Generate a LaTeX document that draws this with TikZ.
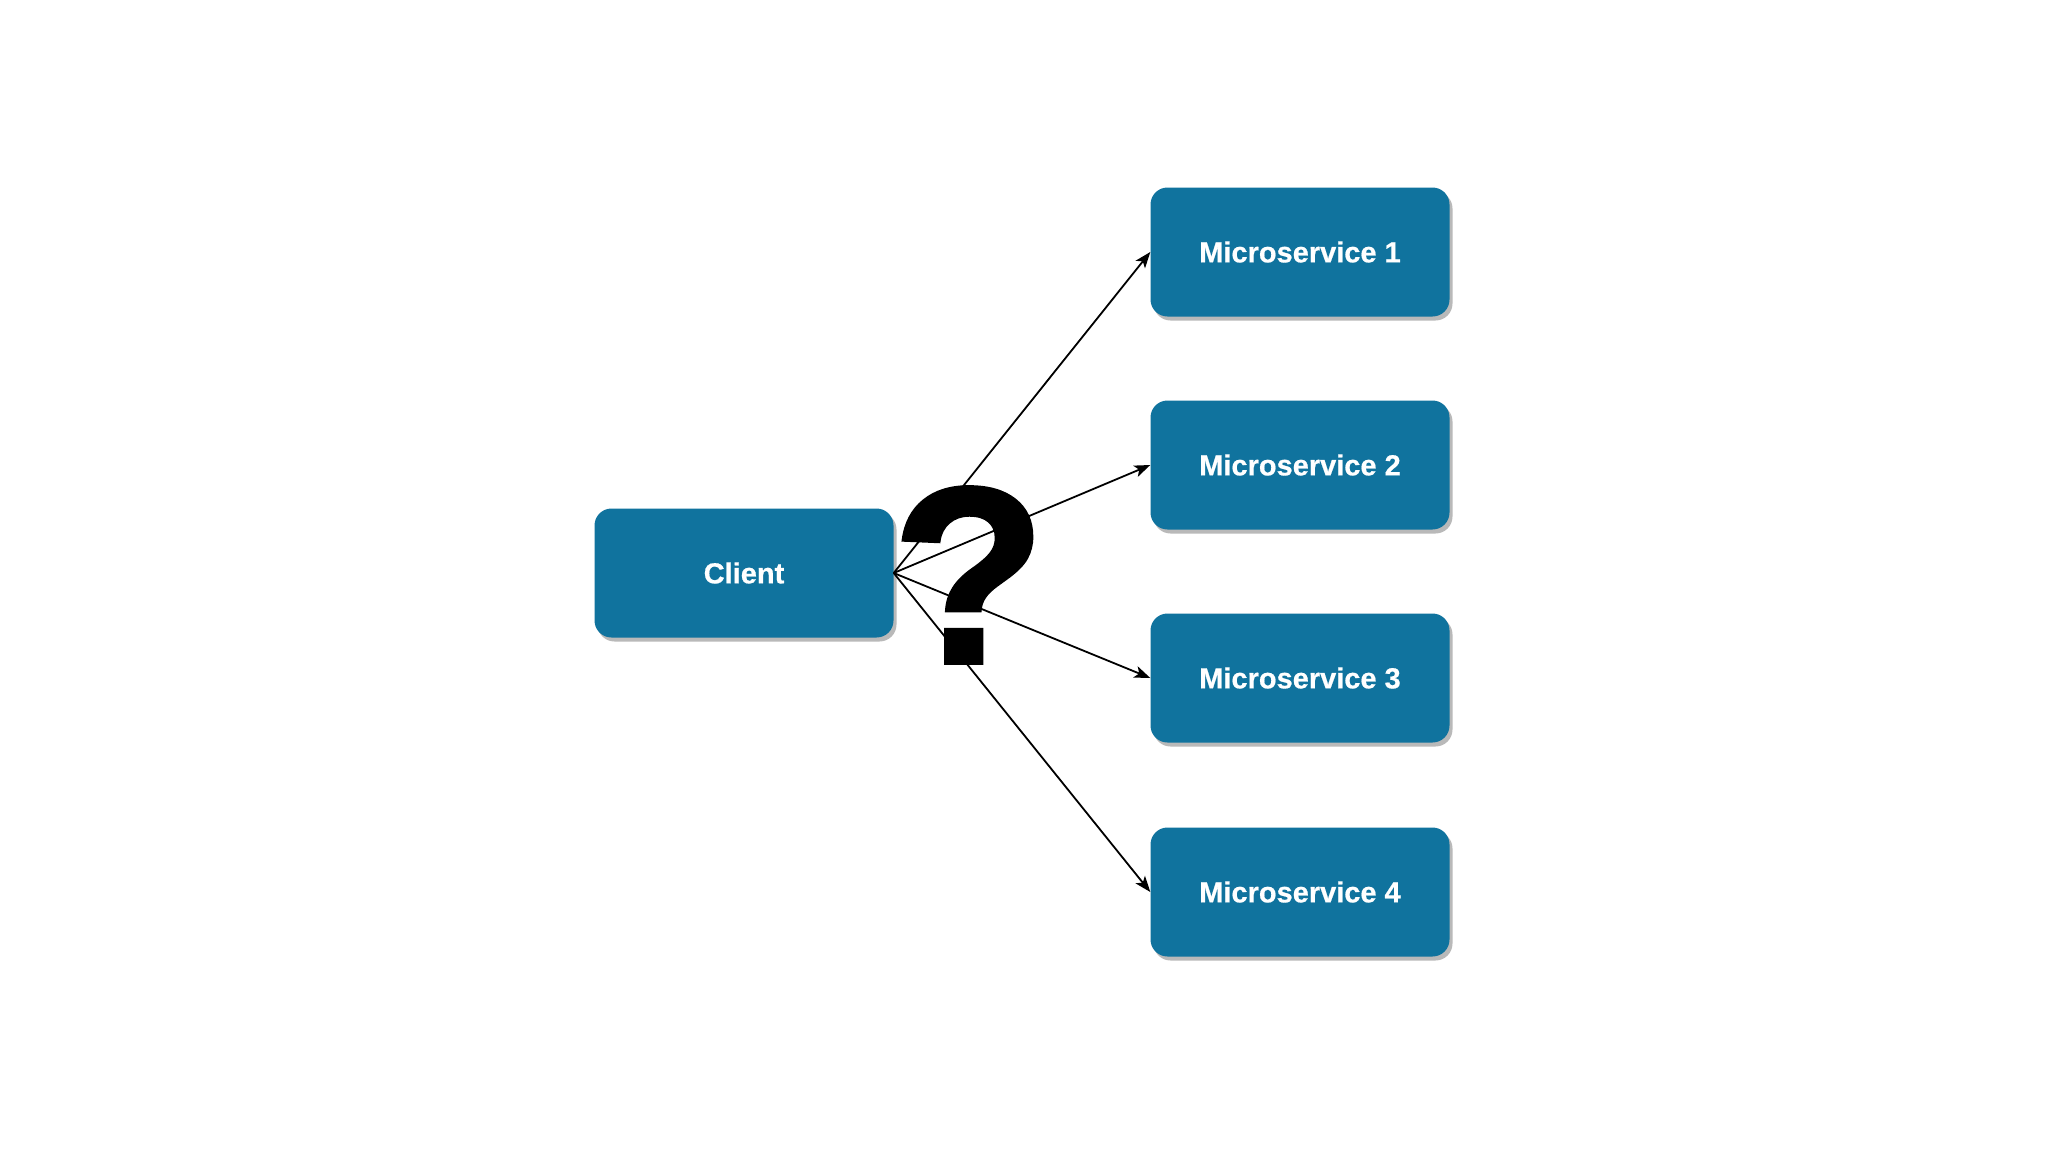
\documentclass[tikz,border=0pt]{standalone}
\usepackage{fontspec}
\setmainfont{Liberation Sans}[BoldFeatures={FakeBold=0.6}]
\newfontfamily\qmarkfont[FakeBold=1.5]{Liberation Sans Bold}
\usepackage{tikz}
\usetikzlibrary{arrows.meta,positioning,shadows}
\definecolor{msblue}{HTML}{10739E}

\begin{document}
\begin{tikzpicture}[
    x=1pt, y=-1pt,
    box/.style={rectangle, fill=msblue, rounded corners=17pt, minimum width=299pt, minimum height=129pt, align=center, text=white, font=\fontsize{29}{34}\selectfont\bfseries, drop shadow={shadow xshift=3pt, shadow yshift=-4pt, fill=gray!55, opacity=1}},
    arrow/.style={-{Stealth[length=16pt, width=12pt, inset=4pt]}, line width=1.8pt, draw=black}
]

% canvas
\fill[white] (0,0) rectangle (2048,1152);
\useasboundingbox (0,0) rectangle (2048,1152);

% client and services
\node[box] (client) at (744,573) {Client};
\node[box] (msone) at (1300,252) {Microservice 1};
\node[box] (mstwo) at (1300,465) {Microservice 2};
\node[box] (msthree) at (1300,678) {Microservice 3};
\node[box] (msfour) at (1300,892) {Microservice 4};

\draw[arrow] (client.east) -- (msone.west);
\draw[arrow] (client.east) -- (mstwo.west);
\draw[arrow] (client.east) -- (msthree.west);
\draw[arrow] (client.east) -- (msfour.west);

% big question mark on top
\node[inner sep=0pt, font=\qmarkfont\fontsize{252}{252}\selectfont] (qmark) at (969,575) {?};

\end{tikzpicture}
\end{document}
